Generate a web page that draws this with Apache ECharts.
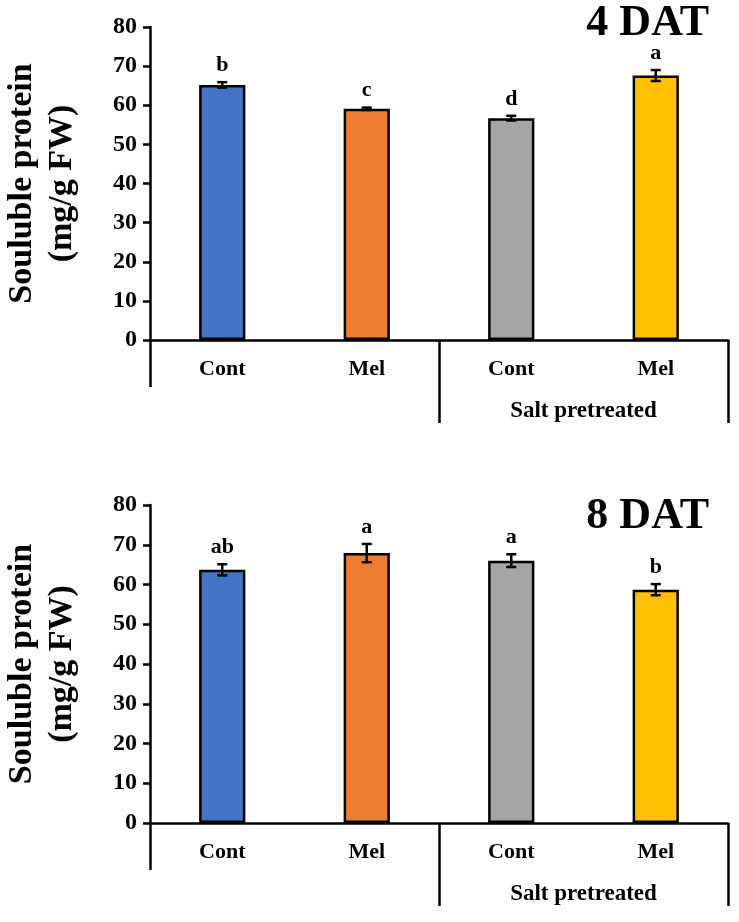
<!DOCTYPE html>
<html>
<head>
<meta charset="utf-8">
<script src="https://cdn.jsdelivr.net/npm/echarts@6/dist/echarts.min.js"></script>
<style>
html,body{margin:0;padding:0;background:#fff;}
#c{width:739px;height:922px;}
</style>
</head>
<body>
<div id="c"></div>
<script>
// ---- data ----
const categories = ['Cont', 'Mel', 'Cont', 'Mel'];
const groupLabel = 'Salt pretreated';
const barColors = ['#4472C4', '#ED7D31', '#A5A5A5', '#FFC000'];
const titles = ['4 DAT', '8 DAT'];
const yTitle = 'Souluble protein\n(mg/g FW)';
const yTicks = { min: 0, max: 80, interval: 10 };

const dat4Values = [65.2, 59.1, 56.7, 67.6];
const dat4Errors = [0.7, 0.3, 0.6, 1.4];
const dat4Letters = ['b', 'c', 'd', 'a'];

const dat8Values = [63.7, 67.9, 66.0, 58.7];
const dat8Errors = [1.4, 2.3, 1.6, 1.4];
const dat8Letters = ['ab', 'a', 'a', 'b'];

// ---- layout ----
const FONT = '"Liberation Serif", "Times New Roman", serif';
const panels = [
  { values: dat4Values, errors: dat4Errors, letters: dat4Letters, title: titles[0], top: 27, height: 313, titleTop: -3 },
  { values: dat8Values, errors: dat8Errors, letters: dat8Letters, title: titles[1], top: 505, height: 318, titleTop: 490 }
];
const gridLeft = 150, gridWidth = 578;

const chart = echarts.init(document.getElementById('c'));
const option = {
  animation: false,
  backgroundColor: '#fff',
  title: [],
  grid: [],
  xAxis: [],
  yAxis: [],
  series: []
};

panels.forEach((p, k) => {
  const gMain = option.grid.length;
  option.grid.push({ left: gridLeft, top: p.top, width: gridWidth, height: p.height, outerBoundsMode: 'none', containLabel: false });
  const gGroup = option.grid.length;
  option.grid.push({ left: gridLeft + gridWidth / 2, top: p.top, width: gridWidth / 2, height: p.height, outerBoundsMode: 'none', containLabel: false });

  option.title.push({
    text: p.title, right: 25, top: p.titleTop,
    textStyle: { fontFamily: FONT, fontWeight: 'bold', fontSize: 44, color: '#000' }
  });

  const xMain = option.xAxis.length;
  option.xAxis.push({
    type: 'category', gridIndex: gMain, data: categories,
    axisLine: { lineStyle: { color: '#000', width: 2.5 } },
    axisTick: { show: true, length: 47, interval: (i) => i === 0, lineStyle: { color: '#000', width: 2.5 } },
    axisLabel: { margin: 18, fontFamily: FONT, fontWeight: 'bold', fontSize: 22, color: '#000', interval: 0 }
  });
  const xGroup = option.xAxis.length;
  option.xAxis.push({
    type: 'category', gridIndex: gGroup, data: [groupLabel],
    axisLine: { show: false },
    axisTick: { show: true, length: 83, lineStyle: { color: '#000', width: 2.5 } },
    axisLabel: { margin: 60, fontFamily: FONT, fontWeight: 'bold', fontSize: 23, color: '#000' }
  });

  const yMain = option.yAxis.length;
  option.yAxis.push({
    type: 'value', gridIndex: gMain, min: yTicks.min, max: yTicks.max, interval: yTicks.interval,
    name: yTitle, nameLocation: 'middle', nameRotate: 90, nameGap: 68,
    nameTextStyle: { fontFamily: FONT, fontWeight: 'bold', fontSize: 34, lineHeight: 40, color: '#000' },
    splitLine: { show: false },
    axisLine: { show: true, lineStyle: { color: '#000', width: 2.5 } },
    axisTick: { show: true, length: 7, lineStyle: { color: '#000', width: 2.5 } },
    axisLabel: { margin: 13, fontFamily: FONT, fontWeight: 'bold', fontSize: 24, color: '#000' }
  });
  option.yAxis.push({ type: 'value', gridIndex: gGroup, show: false, min: 0, max: 80 });

  option.series.push({
    type: 'bar', xAxisIndex: xMain, yAxisIndex: yMain, barWidth: '32%',
    data: p.values.map((v, i) => ({ value: v, itemStyle: { color: barColors[i] } })),
    itemStyle: { borderColor: '#000', borderWidth: 2.5 }
  });

  const errData = p.values.map((v, i) => [i, v, p.errors[i]]);
  option.series.push({
    type: 'custom', xAxisIndex: xMain, yAxisIndex: yMain, data: errData, z: 10,
    renderItem: function (params, api) {
      const x = api.value(0), v = api.value(1), e = api.value(2);
      const lo = api.coord([x, v - e]);
      const hi = api.coord([x, v + e]);
      const cap = 5;
      const st = { stroke: '#000', lineWidth: 2.5 };
      return {
        type: 'group',
        children: [
          { type: 'line', shape: { x1: lo[0], y1: lo[1], x2: hi[0], y2: hi[1] }, style: st },
          { type: 'line', shape: { x1: lo[0] - cap, y1: lo[1], x2: lo[0] + cap, y2: lo[1] }, style: st },
          { type: 'line', shape: { x1: hi[0] - cap, y1: hi[1], x2: hi[0] + cap, y2: hi[1] }, style: st },
          { type: 'text', x: hi[0], y: hi[1] - 6,
            style: { text: p.letters[params.dataIndex], textAlign: 'center', textVerticalAlign: 'bottom',
              font: 'bold 22px ' + FONT, fill: '#000' } }
        ]
      };
    }
  });
});

chart.setOption(option);
</script>
</body>
</html>
